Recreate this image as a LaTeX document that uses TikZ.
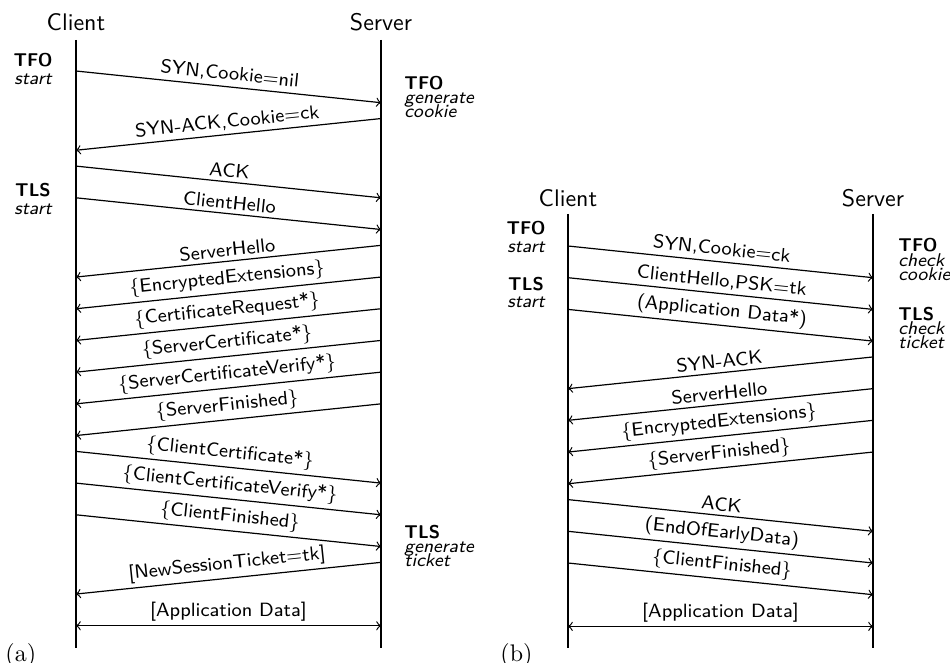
\documentclass[tikz,border=0pt]{standalone}
\begin{document}
\begin{tikzpicture}[x=0.41667pt,y=-0.41667pt,
  life/.style={line width=1.1pt},
  msg/.style={->, line width=0.5pt},
  bimsg/.style={<->, line width=0.5pt},
  lbl/.style={font=\sffamily\footnotesize, sloped, above, midway, inner sep=1.6pt},
  head/.style={font=\sffamily, anchor=base, inner sep=0pt},
  annc/.style={font=\sffamily\fontsize{7.7}{8}\selectfont, anchor=base, inner sep=0pt},
  annl/.style={font=\sffamily\fontsize{7.7}{8}\selectfont, anchor=base west, inner sep=0pt},
  sub/.style={font=\rmfamily, anchor=base west, inner sep=0pt}]
\useasboundingbox (0,0) rectangle (950,663);
% lifeline grid points
\foreach \k in {0,...,36} {
  \coordinate (ac\k) at (76,{71+15.85*\k});
  \coordinate (as\k) at (381,{71+15.85*\k});
  \coordinate (bc\k) at (568,{246+15.85*\k});
  \coordinate (bs\k) at (873,{246+15.85*\k});
}
% ---------------- (a) ----------------
\node[head] (aclient) at (76,31) {Client};
\node[head] (aserver) at (381,31) {Server};
\coordinate (actop) at (76,40);
\coordinate (acbot) at (76,648);
\coordinate (astop) at (381,40);
\coordinate (asbot) at (381,648);
\draw[life] (actop) -- (acbot);
\draw[life] (astop) -- (asbot);

\draw[msg] (ac0) -- node[lbl] {SYN,Cookie=nil} (as2);
\draw[msg] (as3) -- node[lbl] {SYN-ACK,Cookie=ck} (ac5);
\draw[msg] (ac6) -- node[lbl] {ACK} (as8);
\draw[msg] (ac8) -- node[lbl] {ClientHello} (as10);
\draw[msg] (as11) -- node[lbl] {ServerHello} (ac13);
\draw[msg] (as13) -- node[lbl] {$\{$EncryptedExtensions$\}$} (ac15);
\draw[msg] (as15) -- node[lbl] {$\{$CertificateRequest*$\}$} (ac17);
\draw[msg] (as17) -- node[lbl] {$\{$ServerCertificate*$\}$} (ac19);
\draw[msg] (as19) -- node[lbl] {$\{$ServerCertificateVerify*$\}$} (ac21);
\draw[msg] (as21) -- node[lbl] {$\{$ServerFinished$\}$} (ac23);
\draw[msg] (ac24) -- node[lbl] {$\{$ClientCertificate*$\}$} (as26);
\draw[msg] (ac26) -- node[lbl] {$\{$ClientCertificateVerify*$\}$} (as28);
\draw[msg] (ac28) -- node[lbl] {$\{$ClientFinished$\}$} (as30);
\draw[msg] (as31) -- node[lbl] {[NewSessionTicket=tk]} (ac33);
\draw[bimsg] (ac35) -- node[lbl] {[Application Data]} (as35);

\node[annc] (atfo) at (33,67) {\bfseries TFO};
\node[annc] (atfos) at (33,85) {\itshape start};
\node[annc] (atls) at (33,196) {\bfseries TLS};
\node[annc] (atlss) at (33,214) {\itshape start};
\node[annl] (astfo) at (404,90) {\bfseries TFO};
\node[annl] (astfo1) at (404,104) {\itshape generate};
\node[annl] (astfo2) at (404,118) {\itshape cookie};
\node[annl] (astls) at (404,538) {\bfseries TLS};
\node[annl] (astls1) at (404,552) {\itshape generate};
\node[annl] (astls2) at (404,566) {\itshape ticket};
\node[sub] (suba) at (5,661) {(a)};

% ---------------- (b) ----------------
\node[head] (bclient) at (568,206) {Client};
\node[head] (bserver) at (873,206) {Server};
\coordinate (bctop) at (568,214);
\coordinate (bcbot) at (568,648);
\coordinate (bstop) at (873,214);
\coordinate (bsbot) at (873,648);
\draw[life] (bctop) -- (bcbot);
\draw[life] (bstop) -- (bsbot);

\draw[msg] (bc0) -- node[lbl] {SYN,Cookie=ck} (bs2);
\draw[msg] (bc2) -- node[lbl] {ClientHello,PSK=tk} (bs4);
\draw[msg] (bc4) -- node[lbl] {(Application Data*)} (bs6);
\draw[msg] (bs7) -- node[lbl] {SYN-ACK} (bc9);
\draw[msg] (bs9) -- node[lbl] {ServerHello} (bc11);
\draw[msg] (bs11) -- node[lbl] {$\{$EncryptedExtensions$\}$} (bc13);
\draw[msg] (bs13) -- node[lbl] {$\{$ServerFinished$\}$} (bc15);
\draw[msg] (bc16) -- node[lbl] {ACK} (bs18);
\draw[msg] (bc18) -- node[lbl] {(EndOfEarlyData)} (bs20);
\draw[msg] (bc20) -- node[lbl] {$\{$ClientFinished$\}$} (bs22);
\draw[bimsg] (bc24) -- node[lbl] {[Application Data]} (bs24);

\node[annc] (btfo) at (526,235) {\bfseries TFO};
\node[annc] (btfos) at (526,253) {\itshape start};
\node[annc] (btls) at (526,290) {\bfseries TLS};
\node[annc] (btlss) at (526,307) {\itshape start};
\node[annl] (bstfo) at (898,252) {\bfseries TFO};
\node[annl] (bstfo1) at (898,266) {\itshape check};
\node[annl] (bstfo2) at (898,280) {\itshape cookie};
\node[annl] (bstls) at (898,320) {\bfseries TLS};
\node[annl] (bstls1) at (898,334) {\itshape check};
\node[annl] (bstls2) at (898,348) {\itshape ticket};
\node[sub] (subb) at (500,661) {(b)};
\end{tikzpicture}
\end{document}
